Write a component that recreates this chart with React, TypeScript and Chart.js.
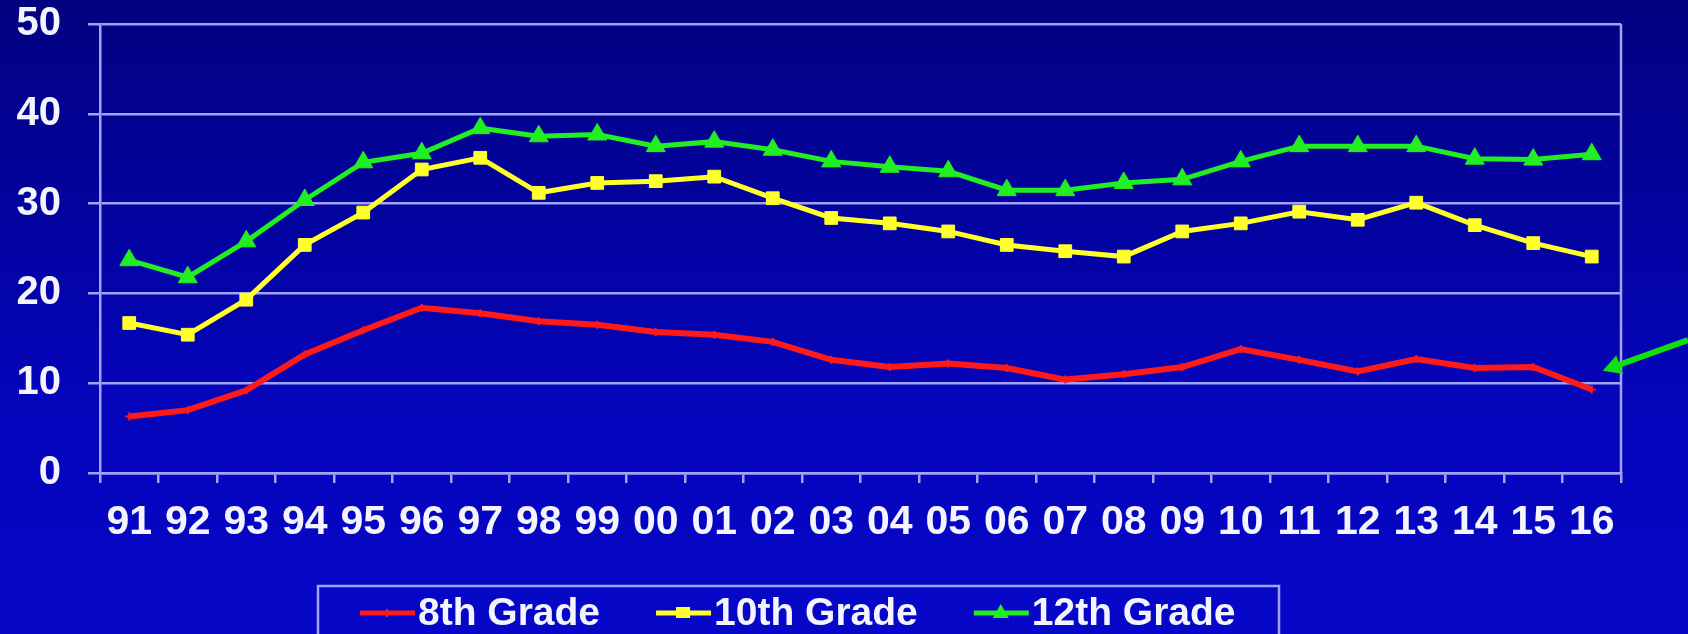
import React, { useEffect, useRef } from 'react';
import { Chart, registerables } from 'chart.js';

Chart.register(...registerables);

// ---- data ----
const years = ['91', '92', '93', '94', '95', '96', '97', '98', '99', '00', '01', '02', '03', '04', '05', '06', '07', '08', '09', '10', '11', '12', '13', '14', '15', '16'];
const grade8 = [6.3, 7.0, 9.2, 13.2, 15.9, 18.4, 17.8, 16.9, 16.5, 15.7, 15.4, 14.6, 12.6, 11.8, 12.2, 11.7, 10.4, 11.0, 11.8, 13.8, 12.6, 11.3, 12.7, 11.7, 11.8, 9.3];
const grade10 = [16.7, 15.4, 19.3, 25.4, 29.0, 33.8, 35.1, 31.2, 32.3, 32.5, 33.0, 30.6, 28.4, 27.8, 26.9, 25.4, 24.7, 24.1, 26.9, 27.8, 29.1, 28.2, 30.1, 27.6, 25.6, 24.1];
const grade12 = [23.7, 21.8, 25.8, 30.4, 34.6, 35.6, 38.4, 37.5, 37.7, 36.4, 36.9, 36.0, 34.7, 34.1, 33.6, 31.5, 31.5, 32.3, 32.7, 34.7, 36.4, 36.4, 36.4, 35.0, 34.9, 35.5];
const seriesNames = ['8th Grade', '10th Grade', '12th Grade'];
const yMin = 0;
const yMax = 50;
const yStep = 10;
// arrow annotation (value-space anchors)
const arrowTipValue = 11.4;
const arrowTailValue = 14.8;

// ---- style ----
const FONT = "'Liberation Sans', Arial, Helvetica, sans-serif";
const GRID = '#A2A2F8';
const TEXT = '#F4F4FF';
const RED = '#FF1A1A';
const YELLOW = '#FFFF2A';
const GREEN = '#22EE22';

function drawMarker(ctx: CanvasRenderingContext2D, kind: string, x: number, y: number, color: string) {
  ctx.save();
  ctx.fillStyle = color;
  ctx.strokeStyle = color;
  if (kind === 'cross') {
    ctx.lineWidth = 2;
    ctx.beginPath();
    ctx.moveTo(x - 4, y);
    ctx.lineTo(x + 4, y);
    ctx.moveTo(x, y - 4);
    ctx.lineTo(x, y + 4);
    ctx.stroke();
  } else if (kind === 'rect') {
    ctx.fillRect(x - 7, y - 6, 14, 11);
  } else {
    ctx.beginPath();
    ctx.moveTo(x, y - 9);
    ctx.lineTo(x + 8, y + 5);
    ctx.lineTo(x - 8, y + 5);
    ctx.closePath();
    ctx.fill();
  }
  ctx.restore();
}

const framePlugin = {
  id: 'frameAndLegend',
  afterDraw(chart: any) {
    const { ctx, chartArea } = chart;
    const xs = chart.scales.x;
    const ys = chart.scales.y;
    ctx.save();
    // right border of plot
    ctx.strokeStyle = GRID;
    ctx.lineWidth = 2.5;
    ctx.beginPath();
    ctx.moveTo(chartArea.right, chartArea.top);
    ctx.lineTo(chartArea.right, chartArea.bottom);
    ctx.stroke();

    // arrow annotation
    const tipX = xs.getPixelForValue(years.length - 1) + 11;
    const tipY = ys.getPixelForValue(arrowTipValue);
    const tailX = chart.width;
    const tailY = ys.getPixelForValue(arrowTailValue);
    const ang = Math.atan2(tipY - tailY, tipX - tailX);
    const headLen = 18;
    const headW = 10;
    ctx.strokeStyle = '#10E010';
    ctx.fillStyle = '#10E010';
    ctx.lineWidth = 6;
    ctx.beginPath();
    ctx.moveTo(tailX, tailY);
    ctx.lineTo(tipX - Math.cos(ang) * headLen * 0.8, tipY - Math.sin(ang) * headLen * 0.8);
    ctx.stroke();
    const bx = tipX - Math.cos(ang) * headLen;
    const by = tipY - Math.sin(ang) * headLen;
    ctx.beginPath();
    ctx.moveTo(tipX, tipY);
    ctx.lineTo(bx + Math.sin(ang) * headW, by - Math.cos(ang) * headW);
    ctx.lineTo(bx - Math.sin(ang) * headW, by + Math.cos(ang) * headW);
    ctx.closePath();
    ctx.fill();

    // legend
    const boxLeft = 318;
    const boxTop = 586;
    const boxW = 961;
    ctx.strokeStyle = GRID;
    ctx.lineWidth = 2.5;
    ctx.strokeRect(boxLeft, boxTop, boxW, 120);
    ctx.font = `bold 39px ${FONT}`;
    ctx.textBaseline = 'middle';
    ctx.textAlign = 'left';
    const ly = 613;
    let x = boxLeft + 42;
    const kinds = ['cross', 'rect', 'triangle'];
    chart.data.datasets.forEach((ds: any, i: number) => {
      ctx.strokeStyle = ds.borderColor;
      ctx.lineWidth = 5;
      ctx.beginPath();
      ctx.moveTo(x, ly);
      ctx.lineTo(x + 55, ly);
      ctx.stroke();
      drawMarker(ctx, kinds[i], x + 27, ly, ds.borderColor);
      ctx.fillStyle = TEXT;
      ctx.fillText(ds.label, x + 58, ly + 1);
      x = x + 58 + ctx.measureText(ds.label).width + 56;
    });
    ctx.restore();
  },
};

export default function App() {
  const canvasRef = useRef<HTMLCanvasElement | null>(null);

  useEffect(() => {
    const canvas = canvasRef.current;
    if (!canvas) return;
    const chart = new Chart(canvas, {
      type: 'line',
      data: {
        labels: years,
        datasets: [
          {
            label: seriesNames[0],
            data: grade8,
            borderColor: RED,
            backgroundColor: RED,
            borderWidth: 6,
            pointStyle: 'cross',
            pointRadius: 4,
            pointBorderWidth: 2,
            tension: 0,
          },
          {
            label: seriesNames[1],
            data: grade10,
            borderColor: YELLOW,
            backgroundColor: YELLOW,
            borderWidth: 5,
            pointStyle: 'rect',
            pointRadius: 9,
            pointBorderWidth: 1,
            tension: 0,
          },
          {
            label: seriesNames[2],
            data: grade12,
            borderColor: GREEN,
            backgroundColor: GREEN,
            borderWidth: 5,
            pointStyle: 'triangle',
            pointRadius: 11,
            pointBorderWidth: 1,
            tension: 0,
          },
        ],
      },
      options: {
        responsive: false,
        animation: false,
        devicePixelRatio: 1,
        layout: { padding: { top: 0, right: 67, left: 0, bottom: 0 } },
        plugins: {
          legend: { display: false },
          tooltip: { enabled: false },
        },
        scales: {
          x: {
            type: 'category',
            offset: true,
            grid: {
              offset: true,
              drawOnChartArea: false,
              drawTicks: true,
              tickLength: 10,
              color: GRID,
              lineWidth: 2.5,
            },
            border: { color: GRID, width: 2.5 },
            ticks: {
              color: TEXT,
              font: { family: FONT, size: 41, weight: 'bold' },
              padding: 15,
              autoSkip: false,
              maxRotation: 0,
              minRotation: 0,
            },
            afterFit: (scale: any) => {
              scale.height = 161;
            },
          },
          y: {
            min: yMin,
            max: yMax,
            grid: {
              color: GRID,
              lineWidth: 2.5,
              tickLength: 12,
            },
            border: { color: GRID, width: 2.5 },
            ticks: {
              stepSize: yStep,
              color: TEXT,
              font: { family: FONT, size: 40, weight: 'bold' },
              padding: 27,
            },
            afterFit: (scale: any) => {
              scale.width = 100;
              scale.paddingTop = 24;
              scale.paddingBottom = 0;
            },
          },
        },
      },
      plugins: [framePlugin],
    } as any);
    return () => chart.destroy();
  }, []);

  return (
    <div
      style={{
        position: 'fixed',
        left: 0,
        top: 0,
        width: 1688,
        height: 634,
        overflow: 'hidden',
        background: 'linear-gradient(to bottom, #020280 0%, #0303A0 35%, #0505BC 65%, #0707C8 100%)',
      }}
    >
      <canvas ref={canvasRef} width={1688} height={634} style={{ display: 'block', width: 1688, height: 634 }} />
    </div>
  );
}
